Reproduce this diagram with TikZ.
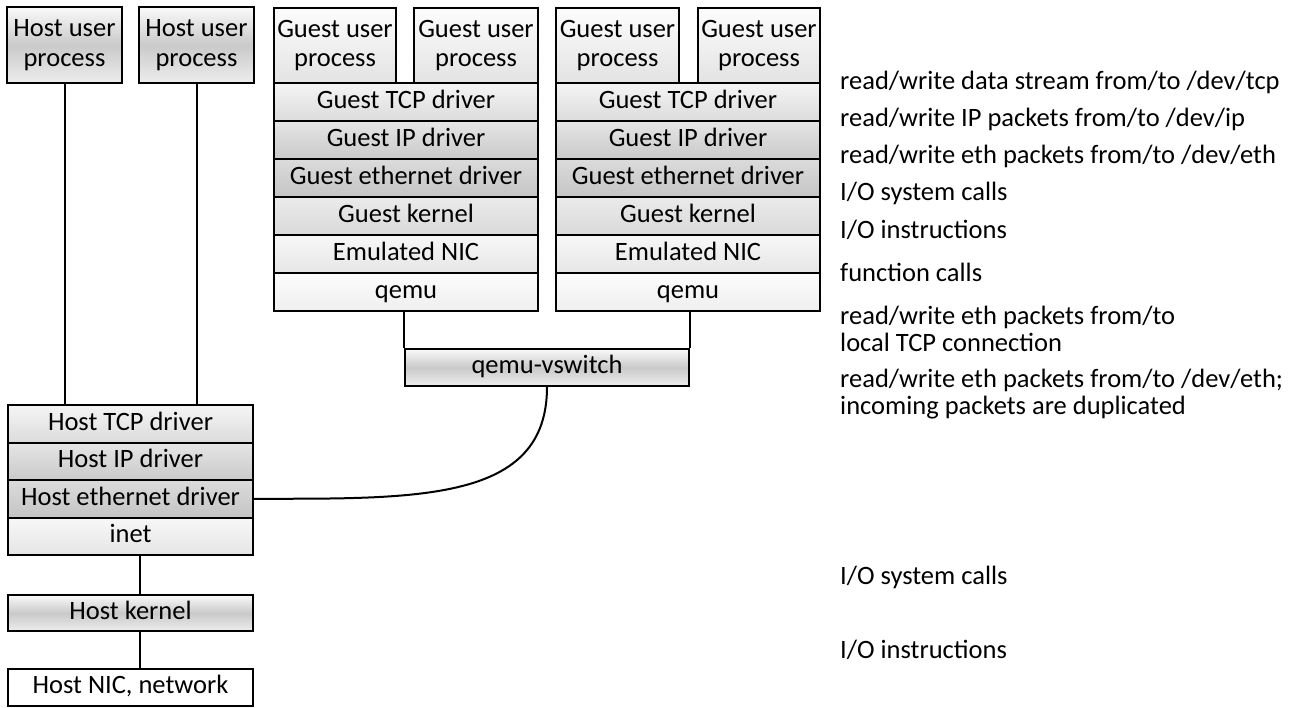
\documentclass[tikz,border=0pt]{standalone}
\usepackage{fontspec}
\setmainfont{Carlito}
\begin{document}
\begin{tikzpicture}[x=1pt,y=-1pt,
  cell/.style={draw=black, line width=2pt, inner sep=0pt, anchor=north west,
    font=\fontsize{26.5}{29.5}\selectfont, align=center},
  row/.style={cell, text height=18.5pt, text depth=6pt},
  lbl/.style={anchor=west, inner sep=0pt, font=\fontsize{26.5}{27}\selectfont, align=left},
  conn/.style={draw=black, line width=2pt},
  tube/.style={top color=gray!4, bottom color=gray!14, middle color=gray!42},
  gup/.style={top color=gray!2, bottom color=gray!22},
  gtcp/.style={top color=gray!8, bottom color=gray!28},
  gip/.style={top color=gray!20, bottom color=gray!42},
  geth/.style={top color=gray!28, bottom color=gray!46},
  gker/.style={top color=gray!16, bottom color=gray!30},
  gnic/.style={top color=gray!6, bottom color=gray!20},
  gqemu/.style={top color=gray!2, bottom color=gray!13},
  plain/.style={fill=white}
]
\useasboundingbox (0,0) rectangle (1293,708);

% host user processes
\node[cell, tube, minimum width=115pt, minimum height=76pt] (hup1) at (6,6) {Host user\\process};
\node[cell, tube, minimum width=115pt, minimum height=76pt] (hup2) at (138,6) {Host user\\process};

% guest column left
\node[cell, gup, minimum width=122pt, minimum height=75pt] (gup1) at (273,7) {Guest user\\process};
\node[cell, gup, minimum width=124pt, minimum height=75pt] (gup2) at (413,7) {Guest user\\process};
\node[row, gtcp, minimum width=264pt, minimum height=38pt] (gltcp) at (273,82) {Guest TCP driver};
\node[row, gip, minimum width=264pt, minimum height=38pt] (glip) at (273,120) {Guest IP driver};
\node[row, geth, minimum width=264pt, minimum height=38pt] (gleth) at (273,158) {Guest ethernet driver};
\node[row, gker, minimum width=264pt, minimum height=38pt] (glker) at (273,196) {Guest kernel};
\node[row, gnic, minimum width=264pt, minimum height=38pt] (glnic) at (273,234) {Emulated NIC};
\node[row, gqemu, minimum width=264pt, minimum height=38pt] (glq) at (273,272) {qemu};

% guest column right
\node[cell, gup, minimum width=123pt, minimum height=75pt] (gup3) at (555,7) {Guest user\\process};
\node[cell, gup, minimum width=122pt, minimum height=75pt] (gup4) at (697,7) {Guest user\\process};
\node[row, gtcp, minimum width=264pt, minimum height=38pt] (grtcp) at (555,82) {Guest TCP driver};
\node[row, gip, minimum width=264pt, minimum height=38pt] (grip) at (555,120) {Guest IP driver};
\node[row, geth, minimum width=264pt, minimum height=38pt] (greth) at (555,158) {Guest ethernet driver};
\node[row, gker, minimum width=264pt, minimum height=38pt] (grker) at (555,196) {Guest kernel};
\node[row, gnic, minimum width=264pt, minimum height=38pt] (grnic) at (555,234) {Emulated NIC};
\node[row, gqemu, minimum width=264pt, minimum height=38pt] (grq) at (555,272) {qemu};

% vswitch
\node[row, tube, minimum width=284pt, minimum height=37pt] (vsw) at (404,348) {qemu-vswitch};

% host stack
\node[row, gtcp, minimum width=245pt, minimum height=37.5pt] (htcp) at (7,404) {Host TCP driver};
\node[row, gip, minimum width=245pt, minimum height=37.5pt] (hip) at (7,441.5) {Host IP driver};
\node[row, geth, minimum width=245pt, minimum height=37.5pt] (heth) at (7,479) {Host ethernet driver};
\node[row, gnic, minimum width=245pt, minimum height=37.5pt] (inet) at (7,516.5) {inet};
\node[row, tube, minimum width=245pt, minimum height=36pt] (hker) at (7,594) {Host kernel};
\node[row, plain, minimum width=245pt, minimum height=37pt] (hnic) at (7,668) {Host NIC, network};

% connectors
\draw[conn] (hup1.south) -- (hup1.south |- htcp.north);
\draw[conn] (hup2.south) -- (hup2.south |- htcp.north);
\draw[conn] (vsw.north west) -- (vsw.north west |- glq.south);
\draw[conn] (vsw.north east) -- (vsw.north east |- grq.south);
\draw[conn] (vsw.south) .. controls +(0,115) and +(165,0) .. (heth.east);
\draw[conn] ([xshift=9.5pt]inet.south) -- ([xshift=9.5pt]inet.south |- hker.north);
\draw[conn] ([xshift=9.5pt]hker.south) -- ([xshift=9.5pt]hker.south |- hnic.north);

% labels
\node[lbl] (l1) at (840,82) {read/write data stream from/to /dev/tcp};
\node[lbl] (l2) at (840,119) {read/write IP packets from/to /dev/ip};
\node[lbl] (l3) at (840,156) {read/write eth packets from/to /dev/eth};
\node[lbl] (l4) at (840,193) {I/O system calls};
\node[lbl] (l5) at (840,230) {I/O instructions};
\node[lbl] (l6) at (840,272) {function calls};
\node[lbl] (l7) at (840,329) {read/write eth packets from/to\\local TCP connection};
\node[lbl] (l8) at (840,394) {read/write eth packets from/to /dev/eth;\\incoming packets are duplicated};
\node[lbl] (l9) at (840,577) {I/O system calls};
\node[lbl] (l10) at (840,650) {I/O instructions};
\end{tikzpicture}
\end{document}
